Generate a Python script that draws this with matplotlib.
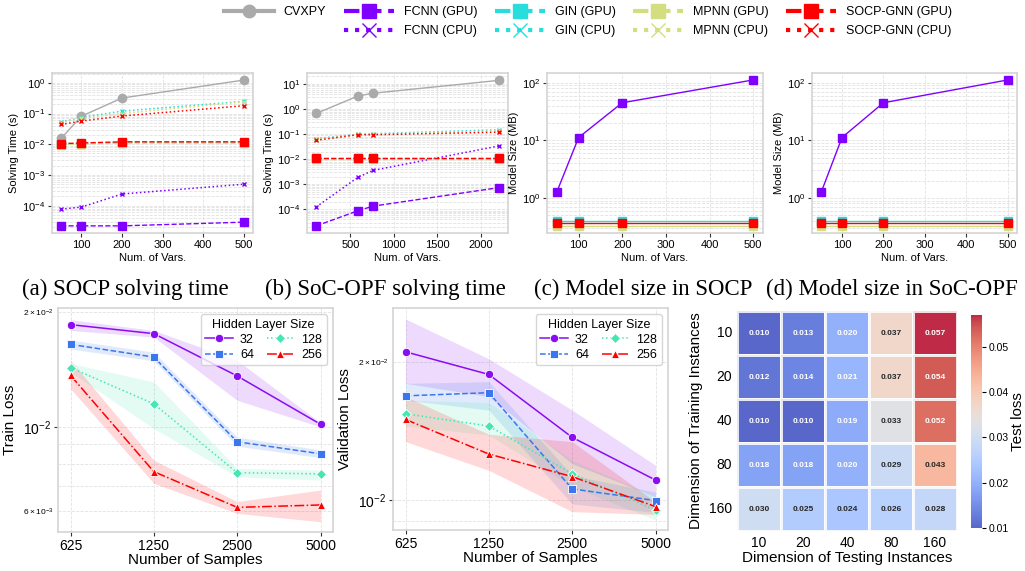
import numpy as np
import matplotlib
matplotlib.use('Agg')
import matplotlib.pyplot as plt
import seaborn as sns
from matplotlib.lines import Line2D

plt.rcParams['font.family'] = ['Liberation Sans', 'DejaVu Sans']
plt.rcParams['axes.edgecolor'] = '#d4d4d4'
plt.rcParams['axes.linewidth'] = 1.2
plt.rcParams['grid.color'] = '#e2e2e2'
plt.rcParams['grid.linestyle'] = '--'
plt.rcParams['grid.linewidth'] = 0.6

# ---- data: solving time / model size ----
x_socp = [50, 100, 200, 500]
x_opf = [105, 585, 760, 2210]

a_cvxpy = [0.0155, 0.082, 0.32, 1.23]
a_gpu = {'FCNN': [2.2e-5, 2.2e-5, 2.2e-5, 2.9e-5],
         'GIN': [0.0100, 0.0104, 0.0113, 0.0113],
         'MPNN': [0.0098, 0.0102, 0.0111, 0.0111],
         'SOCP-GNN': [0.0105, 0.011, 0.012, 0.012]}
a_cpu = {'FCNN': [7.7e-5, 9e-5, 2.4e-4, 5e-4],
         'GIN': [0.053, 0.075, 0.12, 0.25],
         'MPNN': [0.05, 0.07, 0.10, 0.24],
         'SOCP-GNN': [0.044, 0.057, 0.083, 0.18]}

b_cvxpy = [0.67, 3.3, 4.3, 14]
b_gpu = {'FCNN': [2.2e-5, 8.8e-5, 1.35e-4, 7.4e-4],
         'GIN': [0.0108, 0.0108, 0.0108, 0.0108],
         'MPNN': [0.0104, 0.0104, 0.0104, 0.0104],
         'SOCP-GNN': [0.0115, 0.0115, 0.0115, 0.0115]}
b_cpu = {'FCNN': [1.25e-4, 1.9e-3, 3.6e-3, 0.034],
         'GIN': [0.067, 0.10, 0.105, 0.15],
         'MPNN': [0.062, 0.098, 0.10, 0.135],
         'SOCP-GNN': [0.057, 0.095, 0.095, 0.12]}

size_socp = {'FCNN': [1.27, 11.2, 45, 112],
             'GIN': [0.40, 0.40, 0.40, 0.40],
             'MPNN': [0.33, 0.33, 0.33, 0.33],
             'SOCP-GNN': [0.36, 0.36, 0.36, 0.36]}
size_opf = {'FCNN': [1.27, 11.2, 45, 112],
            'GIN': [0.40, 0.40, 0.40, 0.40],
            'MPNN': [0.33, 0.33, 0.33, 0.33],
            'SOCP-GNN': [0.36, 0.36, 0.36, 0.36]}

models = ['FCNN', 'GIN', 'MPNN', 'SOCP-GNN']

# ---- data: train / validation loss ----
samples = ['625', '1250', '2500', '5000']
hidden = ['32', '64', '128', '256']
train_mean = {'32': [0.01854, 0.01756, 0.0136, 0.01016],
              '64': [0.01646, 0.01524, 0.00914, 0.0085],
              '128': [0.0143, 0.01149, 0.00758, 0.00753],
              '256': [0.01365, 0.00763, 0.00615, 0.00624]}
train_lo = {'32': [0.0179, 0.0172, 0.01174, 0.0100],
            '64': [0.0160, 0.0149, 0.0089, 0.0083],
            '128': [0.01393, 0.0099, 0.0074, 0.00725],
            '256': [0.0126, 0.00711, 0.00593, 0.00564]}
train_hi = {'32': [0.0191, 0.0179, 0.01495, 0.01025],
            '64': [0.0169, 0.0157, 0.0094, 0.0087],
            '128': [0.01466, 0.01312, 0.00778, 0.0077],
            '256': [0.01495, 0.00818, 0.00637, 0.00683]}
val_mean = {'32': [0.02103, 0.01877, 0.01369, 0.01105],
            '64': [0.01686, 0.01713, 0.01057, 0.00997],
            '128': [0.01541, 0.01449, 0.01141, 0.0095],
            '256': [0.01498, 0.01259, 0.01124, 0.00967]}
val_lo = {'32': [0.01795, 0.0168, 0.0120, 0.01017],
          '64': [0.0165, 0.0157, 0.0098, 0.0094],
          '128': [0.0145, 0.01385, 0.0107, 0.00905],
          '256': [0.0134, 0.0116, 0.00943, 0.0093]}
val_hi = {'32': [0.0248, 0.0203, 0.0157, 0.0119],
          '64': [0.01795, 0.0181, 0.0113, 0.0104],
          '128': [0.0165, 0.0163, 0.0122, 0.0102],
          '256': [0.0168, 0.0139, 0.0134, 0.0099]}

# ---- data: heatmap ----
dims = ['10', '20', '40', '80', '160']
test_loss = [[0.010, 0.013, 0.020, 0.037, 0.057],
             [0.012, 0.014, 0.021, 0.037, 0.054],
             [0.010, 0.010, 0.019, 0.033, 0.052],
             [0.018, 0.018, 0.020, 0.029, 0.043],
             [0.030, 0.025, 0.024, 0.026, 0.028]]

W, H = 1025, 571
fig = plt.figure(figsize=(W / 100, H / 100), dpi=100)


def rect(l, t, r, b):
    return [l / W, 1 - b / H, (r - l) / W, (b - t) / H]


rb = plt.cm.rainbow(np.linspace(0, 1, 4))
mcol = dict(zip(models, rb))
gray = '#aaaaaa'


def style(ax, fs):
    ax.set_yscale('log')
    ax.grid(True, which='major')
    ax.grid(True, which='minor', axis='y')
    ax.tick_params(which='major', length=3, width=0.8, labelsize=fs, color='#333333', pad=2)
    ax.tick_params(which='minor', length=0)
    ax.set_axisbelow(True)


def time_panel(ax, x, cv, gpu, cpu):
    ax.plot(x, cv, color=gray, marker='o', ms=6, lw=1)
    for m in models:
        ax.plot(x, gpu[m], color=mcol[m], marker='s', ms=6, lw=1, ls='--')
        ax.plot(x, cpu[m], color=mcol[m], marker='x', ms=3, mew=1, lw=1.1, ls=':')
    style(ax, 8)
    ax.set_ylabel('Solving Time (s)', fontsize=8, labelpad=2)
    ax.set_xlabel('Num. of Vars.', fontsize=8, labelpad=2)


def size_panel(ax, x, sz):
    for m in models:
        ax.plot(x, sz[m], color=mcol[m], marker='s', ms=6, lw=1)
    style(ax, 8)
    ax.set_ylabel('Model Size (MB)', fontsize=8, labelpad=2)
    ax.set_xlabel('Num. of Vars.', fontsize=8, labelpad=2)


ax_a = fig.add_axes(rect(52, 73, 253, 233))
time_panel(ax_a, x_socp, a_cvxpy, a_gpu, a_cpu)
ax_a.set_ylim(10 ** -4.89, 10 ** 0.32)
ax_a.set_xticks([100, 200, 300, 400, 500])

ax_b = fig.add_axes(rect(307, 73, 508, 233))
time_panel(ax_b, x_opf, b_cvxpy, b_gpu, b_cpu)
ax_b.set_ylim(10 ** -4.94, 10 ** 1.44)
ax_b.set_xticks([500, 1000, 1500, 2000])

ax_c = fig.add_axes(rect(547, 73, 763, 233))
size_panel(ax_c, x_socp, size_socp)
ax_c.set_ylim(10 ** -0.61, 10 ** 2.17)
ax_c.set_xticks([100, 200, 300, 400, 500])

ax_d = fig.add_axes(rect(812, 73, 1017, 233))
size_panel(ax_d, x_socp, size_opf)
ax_d.set_ylim(10 ** -0.61, 10 ** 2.17)
ax_d.set_xticks([100, 200, 300, 400, 500])

captions = ['(a) SOCP solving time', '(b) SoC-OPF solving time',
            '(c) Model size in SOCP', '(d) Model size in SoC-OPF']
for cx, txt in zip([125, 385, 643, 892], captions):
    fig.text(cx / W, 1 - 289 / H, txt, ha='center', va='center',
             fontsize=16.5, family=['Liberation Serif', 'DejaVu Serif'])

# top legend
handles = [Line2D([], [], color=gray, marker='o', ms=9, lw=3),
           Line2D([], [], color='none')]
labels = ['CVXPY', '']
for m in models:
    handles.append(Line2D([], [], color=mcol[m], marker='s', ms=10, lw=3, ls='--'))
    handles.append(Line2D([], [], color=mcol[m], marker='x', ms=10, mew=1, lw=3, ls=':'))
    labels += [m + ' (GPU)', m + ' (CPU)']
fig.legend(handles, labels, ncol=5, loc='upper center', bbox_to_anchor=(588 / W, 1.0),
           frameon=False, handlelength=4, columnspacing=1.4, borderaxespad=0.1,
           handletextpad=0.8, labelspacing=0.55,
           prop={'family': ['Liberation Sans', 'DejaVu Sans'], 'size': 9})

# bottom loss plots
lcol = {'32': '#8a0cf0', '64': '#3a76ee', '128': '#45e6b4', '256': '#ff0000'}
lmark = {'32': 'o', '64': 's', '128': 'D', '256': '^'}
lls = {'32': '-', '64': '--', '128': ':', '256': '-.'}
xi = np.arange(len(samples))


def loss_panel(ax, mean, lo, hi, ylabel):
    for h in hidden:
        ax.fill_between(xi, lo[h], hi[h], color=lcol[h], alpha=0.15, lw=0)
        ax.plot(xi, mean[h], color=lcol[h], marker=lmark[h], ls=lls[h], lw=1.1,
                ms=6 if h != '128' else 5, mec='white', mew=0.6, label=h)
    style(ax, 10)
    ax.tick_params(which='minor', labelsize=6)
    ax.grid(True, which='minor', axis='y')
    ax.set_xticks(xi)
    ax.set_xticklabels(samples)
    ax.set_xlim(-0.15, 3.15)
    ax.set_xlabel('Number of Samples', fontsize=11, labelpad=0)
    ax.set_ylabel(ylabel, fontsize=11)
    ax.legend(title='Hidden Layer Size', ncol=2, loc='upper right', fontsize=9,
              title_fontsize=9, columnspacing=1.0, handlelength=2.2,
              handletextpad=0.6, borderpad=0.35, labelspacing=0.25)


ax_t = fig.add_axes(rect(58, 308, 333, 532))
loss_panel(ax_t, train_mean, train_lo, train_hi, 'Train Loss')
ax_t.set_ylim(5.3e-3, 2.05e-2)

ax_v = fig.add_axes(rect(393, 308, 668, 530))
loss_panel(ax_v, val_mean, val_lo, val_hi, 'Validation Loss')
ax_v.set_ylim(8.6e-3, 2.62e-2)

# heatmap
ax_h = fig.add_axes(rect(737, 311, 957, 531))
ax_cb = fig.add_axes(rect(971, 315, 982, 528))
sns.heatmap(np.array(test_loss), ax=ax_h, cbar_ax=ax_cb, cmap='coolwarm', alpha=0.85,
            annot=True, fmt='.3f', annot_kws={'size': 6, 'weight': 'bold'},
            linewidths=1, linecolor='white', xticklabels=dims, yticklabels=dims)
ax_h.tick_params(length=0, labelsize=10)
ax_h.set_yticklabels(dims, rotation=0)
ax_h.set_xlabel('Dimension of Testing Instances', fontsize=11, labelpad=1)
ax_h.set_ylabel('Dimension of Training Instances', fontsize=11)
ax_cb.set_yticks([0.01, 0.02, 0.03, 0.04, 0.05])
ax_cb.tick_params(labelsize=7.5, length=3, pad=1.5)
ax_cb.set_ylabel('Test loss', fontsize=11, labelpad=2)
for s in ax_cb.spines.values():
    s.set_visible(False)

fig.savefig('out.png', dpi=100)
